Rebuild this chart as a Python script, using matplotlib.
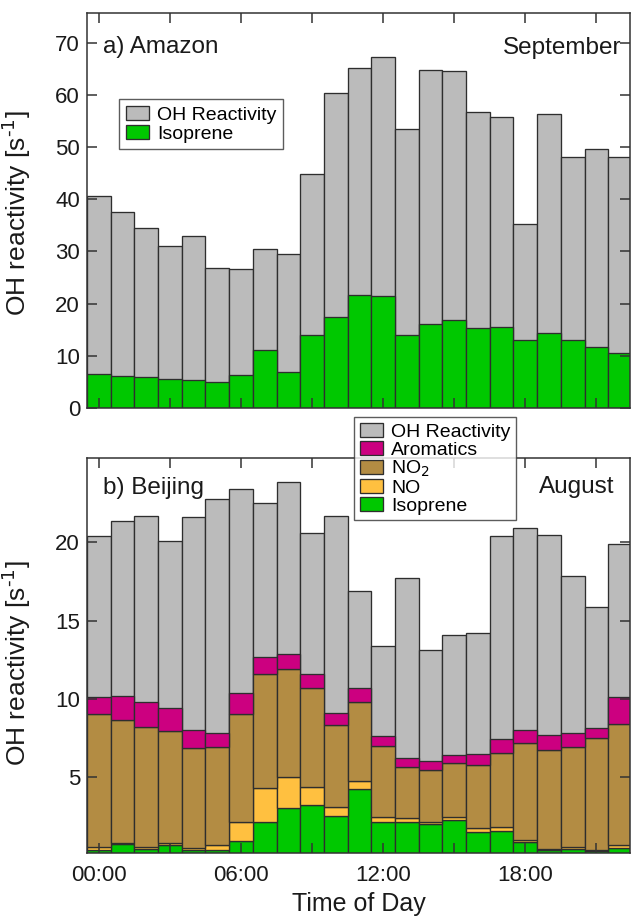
import matplotlib

matplotlib.use("Agg")
import matplotlib.pyplot as plt
import numpy as np

plt.rcParams["font.family"] = ["Liberation Sans", "DejaVu Sans"]

HOURS = list(range(23))
XTICKS = [0, 3, 6, 9, 12, 15, 18, 21]
XTICK_LABELS = ["00:00", "", "06:00", "", "12:00", "", "18:00", ""]

# a) Amazon, September
AMZ_TOTAL = [40.7, 37.5, 34.5, 31.0, 33.0, 26.9, 26.6, 30.5, 29.6, 44.8, 60.3, 65.2,
             67.2, 53.4, 64.8, 64.6, 56.7, 55.7, 35.3, 56.3, 48.1, 49.6, 48.1]
AMZ_ISOPRENE = [6.6, 6.1, 6.0, 5.5, 5.3, 4.9, 6.4, 11.1, 6.8, 14.0, 17.4, 21.6,
                21.5, 13.9, 16.0, 16.9, 15.3, 15.5, 13.0, 14.4, 13.0, 11.7, 10.5]

# b) Beijing, August
BJ_TOTAL = [20.4, 21.4, 21.7, 20.1, 21.6, 22.8, 23.4, 22.5, 23.85, 20.6, 21.7, 16.9,
            13.35, 17.7, 13.1, 14.06, 14.19, 20.4, 20.9, 20.5, 17.84, 15.9, 19.87]
BJ_ISOPRENE = [0.35, 0.7, 0.4, 0.68, 0.36, 0.36, 0.92, 2.1, 3.0, 3.2, 2.5, 4.27,
               2.1, 2.14, 2.03, 2.24, 1.52, 1.56, 0.85, 0.32, 0.4, 0.26, 0.49]
BJ_NO = [0.18, 0.1, 0.11, 0.12, 0.11, 0.28, 1.18, 2.2, 1.98, 1.18, 0.6, 0.49,
         0.36, 0.23, 0.07, 0.22, 0.25, 0.26, 0.15, 0.08, 0.11, 0.1, 0.15]
BJ_NO2 = [8.51, 7.85, 7.72, 7.17, 6.41, 6.26, 6.94, 7.3, 6.92, 6.32, 5.23, 5.07,
          4.53, 3.25, 3.35, 3.46, 4.0, 4.7, 6.16, 6.33, 6.39, 7.12, 7.76]
BJ_AROMATICS = [1.06, 1.55, 1.6, 1.47, 1.12, 0.9, 1.36, 1.1, 1.0, 0.9, 0.77, 0.87,
                0.66, 0.58, 0.6, 0.51, 0.7, 0.89, 0.84, 0.94, 0.9, 0.68, 1.7]

COLORS = {
    "total": "#BBBBBB",
    "aromatics": "#CC0080",
    "no2": "#B38C43",
    "no": "#FFC040",
    "isoprene": "#00C800",
}
EDGE = "#2e2e2e"
TEXT = "#1a1a1a"
YLABEL = "OH reactivity [s$^{\\text{-}1}$]"


def style_axes(ax, ylim, yticks, show_xlabels):
    ax.set_xlim(-0.5, 22.42)
    ax.set_ylim(*ylim)
    ax.set_yticks(yticks)
    ax.set_xticks(XTICKS)
    ax.set_xticklabels(XTICK_LABELS if show_xlabels else [""] * len(XTICKS))
    ax.tick_params(direction="in", length=7, width=1.1, color="#333333",
                   top=True, right=True, labelsize=16, labelcolor=TEXT)
    ax.tick_params(axis="x", pad=9)
    ax.tick_params(axis="y", pad=5)
    for spine in ax.spines.values():
        spine.set_color("#333333")
        spine.set_linewidth(1.1)
        spine.set_zorder(5)
    ax.set_ylabel(YLABEL, fontsize=19, color=TEXT)


fig = plt.figure(figsize=(6.31, 9.17), dpi=100)
ax1 = fig.add_axes([0.1379, 0.5551, 0.8605, 0.4308])
ax2 = fig.add_axes([0.1379, 0.0698, 0.8605, 0.4308])

bar_kw = dict(width=1.0, edgecolor=EDGE, linewidth=0.95)

# panel a
ax1.bar(HOURS, AMZ_TOTAL, color=COLORS["total"], label="OH Reactivity", **bar_kw)
ax1.bar(HOURS, AMZ_ISOPRENE, color=COLORS["isoprene"], label="Isoprene", **bar_kw)
style_axes(ax1, (0, 75.7), range(0, 80, 10), False)
ax1.yaxis.set_label_coords(-0.1, 0.494)
ax1.text(0.029, 0.914, "a) Amazon", transform=ax1.transAxes, fontsize=17.5,
         va="center", ha="left", color=TEXT)
ax1.text(0.985, 0.911, "September", transform=ax1.transAxes, fontsize=17.5,
         va="center", ha="right", color=TEXT)
leg1 = ax1.legend(loc="upper left", bbox_to_anchor=(0.059, 0.782), fontsize=14,
                  frameon=True, fancybox=False, edgecolor="#333333",
                  handlelength=1.2, handleheight=0.75, handletextpad=0.4,
                  borderpad=0.35, labelspacing=0.05, borderaxespad=0)
leg1.get_frame().set_linewidth(1.0)

# panel b
ax2.bar(HOURS, BJ_TOTAL, color=COLORS["total"], label="OH Reactivity", **bar_kw)
bottom = np.zeros(len(HOURS))
layers = [
    (BJ_ISOPRENE, "isoprene", "Isoprene"),
    (BJ_NO, "no", "NO"),
    (BJ_NO2, "no2", "NO$_2$"),
    (BJ_AROMATICS, "aromatics", "Aromatics"),
]
for values, key, label in layers:
    ax2.bar(HOURS, values, bottom=bottom, color=COLORS[key], label=label, **bar_kw)
    bottom = bottom + np.asarray(values)
style_axes(ax2, (0.15, 25.4), [5, 10, 15, 20], True)
ax2.yaxis.set_label_coords(-0.1, 0.48)
ax2.set_xlabel("Time of Day", fontsize=18, color=TEXT)
ax2.xaxis.set_label_coords(0.5, -0.1)
ax2.text(0.029, 0.924, "b) Beijing", transform=ax2.transAxes, fontsize=17.5,
         va="center", ha="left", color=TEXT)
ax2.text(0.972, 0.927, "August", transform=ax2.transAxes, fontsize=17.5,
         va="center", ha="right", color=TEXT)
handles, labels = ax2.get_legend_handles_labels()
order = [0, 4, 3, 2, 1]
leg2 = ax2.legend([handles[i] for i in order], [labels[i] for i in order],
                  loc="upper left", bbox_to_anchor=(0.4917, 1.104), fontsize=14,
                  frameon=True, fancybox=False, edgecolor="#333333",
                  handlelength=1.2, handleheight=0.75, handletextpad=0.4,
                  borderpad=0.3, labelspacing=0.0, borderaxespad=0)
leg2.get_frame().set_linewidth(1.0)
leg2.set_zorder(10)

fig.savefig("out.png", dpi=100)
